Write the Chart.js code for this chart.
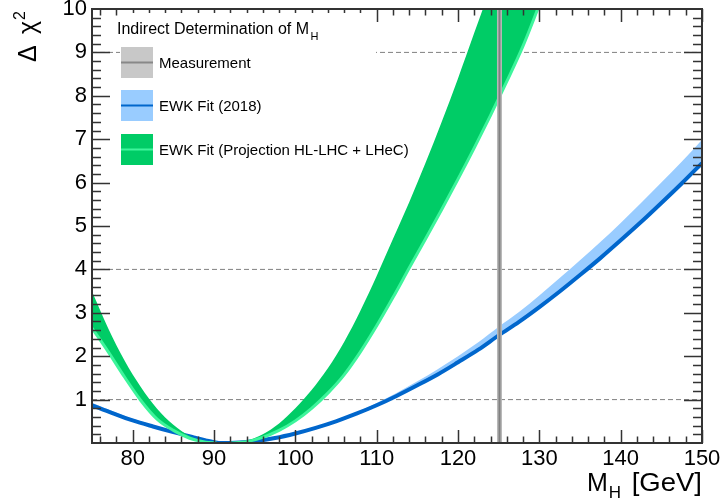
<!DOCTYPE html>
<html><head><meta charset="utf-8">
<script src="https://cdn.jsdelivr.net/npm/chart.js@4"></script>
<style>html,body{margin:0;padding:0;background:#fff}canvas{display:block}</style>
</head><body>
<canvas id="c" width="722" height="504"></canvas>
<script>
// ---- data ----
const xTickLabels = [80, 90, 100, 110, 120, 130, 140, 150];
const yTickLabels = [1, 2, 3, 4, 5, 6, 7, 8, 9, 10];
const sigmaLevels = [1, 4, 9];
const mhMeasured = 125.1;

const blueX     = [75, 77.5, 80, 82.5, 85, 87.5, 89, 90, 91, 92, 95, 97.5, 100, 102.5, 105, 107.5, 110, 112.5, 115, 117.5, 120, 122.5, 125, 127.5, 130, 132.5, 135, 137.5, 140, 142.5, 145, 147.5, 150];
const blueFit   = [0.87, 0.69, 0.52, 0.38, 0.25, 0.13, 0.06, 0.02, 0, 0, 0.045, 0.115, 0.22, 0.35, 0.50, 0.675, 0.87, 1.09, 1.33, 1.58, 1.86, 2.15, 2.48, 2.79, 3.13, 3.49, 3.87, 4.26, 4.67, 5.09, 5.53, 5.98, 6.45];
const blueUpper = [0.93, 0.74, 0.56, 0.41, 0.27, 0.14, 0.065, 0.02, 0, 0, 0.05, 0.125, 0.235, 0.37, 0.53, 0.71, 0.92, 1.16, 1.42, 1.70, 2.00, 2.32, 2.68, 3.02, 3.40, 3.80, 4.21, 4.63, 5.07, 5.53, 6.00, 6.48, 6.99];

const greenX     = [75, 77, 79, 81, 83, 85, 87, 89, 90.3, 91.2, 92, 94, 96, 98, 100, 102, 104, 106, 108, 110, 112, 114, 116, 118, 120, 122, 124, 126, 128, 130, 132];
const greenUpper = [3.49, 2.64, 1.90, 1.29, 0.79, 0.42, 0.16, 0.03, 0, null, 0, 0.05, 0.20, 0.45, 0.80, 1.22, 1.72, 2.33, 3.05, 3.85, 4.70, 5.55, 6.45, 7.40, 8.40, 9.45, 10.5, 11.6, 12.7, 13.8, 14.9];
const greenLower = [2.65, 2.10, 1.52, 0.98, 0.55, 0.29, 0.11, 0.02, 0, null, 0, 0.03, 0.13, 0.29, 0.51, 0.80, 1.15, 1.57, 2.10, 2.70, 3.35, 4.03, 4.70, 5.38, 6.08, 6.80, 7.55, 8.33, 9.15, 10.10, 11.10];

const legendTitle = 'Indirect Determination of M';
const legendTitleSub = 'H';
const legendLabels = ['Measurement', 'EWK Fit (2018)', 'EWK Fit (Projection HL-LHC + LHeC)'];

// ---- colours ----
const C = {
  blueLine: '#0066cc', blueBand: '#99ccff',
  greenBand: '#00cc66', greenLine: '#3ef59c',
  measLine: '#808080', measBand: '#b8b8b8',
  axis: '#333333', dash: '#808080'
};
const FONT = "'Liberation Sans', Arial, Helvetica, sans-serif";
const xMin = 75, xMax = 150, yMin = 0, yMax = 10;

const pts = (xs, ys) => xs.map((x, i) => ({x, y: ys[i]}));

const datasets = [
  {data: pts(blueX, blueUpper), borderWidth: 0, backgroundColor: C.blueBand, fill: 1, order: 6, cubicInterpolationMode: 'monotone'},
  {data: pts(blueX, blueFit), borderColor: C.blueLine, borderWidth: 4, fill: false, order: 5, cubicInterpolationMode: 'monotone'},
  {data: pts(greenX, greenUpper), borderWidth: 0, borderColor: C.greenBand, backgroundColor: C.greenBand, fill: 3, order: 4, cubicInterpolationMode: 'monotone', spanGaps: false},
  {data: pts(greenX, greenLower), borderColor: C.greenLine, borderWidth: 3, fill: false, order: 3, cubicInterpolationMode: 'monotone', spanGaps: false},
  {data: [{x: mhMeasured, y: yMin}, {x: mhMeasured, y: yMax}], borderColor: C.measBand, borderWidth: 5, fill: false, order: 1},
  {data: [{x: mhMeasured, y: yMin}, {x: mhMeasured, y: yMax}], borderColor: C.measLine, borderWidth: 2, fill: false, order: 0}
];
sigmaLevels.forEach(l => datasets.push({
  data: [{x: xMin, y: l}, {x: xMax, y: l}], borderColor: C.dash, borderWidth: 1, borderDash: [5, 3], fill: false, order: 9
}));
datasets.forEach(d => { d.pointRadius = 0; d.clip = 0; });

const frameTicks = {
  id: 'frameTicks',
  afterDatasetsDraw(chart) {
    const {ctx, chartArea: a, scales: {x, y}} = chart;
    ctx.save();
    ctx.strokeStyle = C.axis;
    ctx.lineWidth = 1.5;
    ctx.beginPath();
    for (let i = 38; i <= 75; i++) {
      const v = i * 2;
      if (v <= xMin || v > xMax) continue;
      const px = Math.round(x.getPixelForValue(v)) + 0.5;
      const len = (v % 10 === 0) ? 13 : 6.5;
      ctx.moveTo(px, a.bottom); ctx.lineTo(px, a.bottom - len);
      ctx.moveTo(px, a.top); ctx.lineTo(px, a.top + len);
    }
    for (let k = 1; k < 50; k++) {
      const v = k / 5;
      const py = Math.round(y.getPixelForValue(v)) + 0.5;
      const len = (k % 5 === 0) ? 18 : 9;
      ctx.moveTo(a.left, py); ctx.lineTo(a.left + len, py);
      ctx.moveTo(a.right, py); ctx.lineTo(a.right - len, py);
    }
    ctx.stroke();
    ctx.lineWidth = 2;
    ctx.strokeRect(a.left, a.top, a.right - a.left, a.bottom - a.top);
    ctx.restore();
  }
};

const legendBox = {
  id: 'legendBox',
  afterDatasetsDraw(chart) {
    const {ctx, chartArea: a} = chart;
    ctx.save();
    const L = a.left;
    ctx.fillStyle = '#fff';
    ctx.fillRect(L + 28, a.top + 4, 256, 160);
    ctx.fillStyle = '#000';
    ctx.textBaseline = 'alphabetic';
    ctx.font = '16px ' + FONT;
    ctx.fillText(legendTitle, L + 25, a.top + 24.5);
    const w = ctx.measureText(legendTitle).width;
    ctx.font = '11px ' + FONT;
    ctx.fillText(legendTitleSub, L + 25 + w + 1.5, a.top + 31);
    const entries = [
      {fill: '#c8c8c8', line: '#888888', y: a.top + 38},
      {fill: C.blueBand, line: C.blueLine, y: a.top + 81},
      {fill: C.greenBand, line: C.greenLine, y: a.top + 125}
    ];
    entries.forEach((e, i) => {
      ctx.fillStyle = e.fill;
      ctx.fillRect(L + 29, e.y, 32, 31);
      ctx.fillStyle = e.line;
      ctx.fillRect(L + 29, e.y + 14.5, 32, 2);
      ctx.fillStyle = '#000';
      ctx.font = '15px ' + FONT;
      ctx.fillText(legendLabels[i], L + 67, e.y + 21);
    });
    ctx.restore();
  }
};

const axisTitles = {
  id: 'axisTitles',
  afterDraw(chart) {
    const {ctx, chartArea: a} = chart;
    ctx.save();
    ctx.fillStyle = '#000';
    ctx.textBaseline = 'alphabetic';
    // x title: M_H [GeV]
    const bl = 490.5;
    ctx.font = '25px ' + FONT;
    const mx = a.right - 115;
    ctx.fillText('M', mx, bl);
    const mw = ctx.measureText('M').width;
    const tail = '[GeV]';
    const tw = ctx.measureText(tail).width;
    ctx.save();
    ctx.translate(a.right, bl);
    ctx.scale(1.1, 1);
    ctx.fillText(tail, -tw, 0);
    ctx.restore();
    ctx.font = '17px ' + FONT;
    ctx.fillText('H', mx + mw + 1, bl + 7.5);
    // y title: Δ χ²
    ctx.translate(36, 62);
    ctx.rotate(-Math.PI / 2);
    ctx.font = '25px ' + FONT;
    ctx.fillText('Δ', 0, 0);
    ctx.fillText('χ', 28, 0);
    const cw = ctx.measureText('χ').width;
    ctx.font = '16px ' + FONT;
    ctx.fillText('2', 28 + cw + 1, -11);
    ctx.restore();
  }
};

new Chart(document.getElementById('c'), {
  type: 'line',
  data: {datasets},
  options: {
    responsive: false,
    animation: false,
    events: [],
    layout: {padding: {left: 0, right: 20, top: 9, bottom: 0}},
    plugins: {legend: {display: false}, tooltip: {enabled: false}},
    scales: {
      x: {
        type: 'linear', min: xMin, max: xMax,
        grid: {display: false, drawTicks: false}, border: {display: false},
        ticks: {font: {family: FONT, size: 22}, color: '#000', padding: 3, autoSkip: false, maxRotation: 0},
        afterBuildTicks: s => { s.ticks = xTickLabels.map(v => ({value: v})); },
        afterFit: s => { s.height = 61; s.paddingLeft = 0; s.paddingRight = 0; }
      },
      y: {
        type: 'linear', min: yMin, max: yMax,
        grid: {display: false, drawTicks: false}, border: {display: false},
        ticks: {font: {family: FONT, size: 22}, color: '#000', padding: 5, autoSkip: false},
        afterBuildTicks: s => { s.ticks = yTickLabels.map(v => ({value: v})); },
        afterFit: s => { s.width = 92; s.paddingTop = 0; s.paddingBottom = 0; }
      }
    }
  },
  plugins: [frameTicks, legendBox, axisTitles]
});
</script>
</body></html>
